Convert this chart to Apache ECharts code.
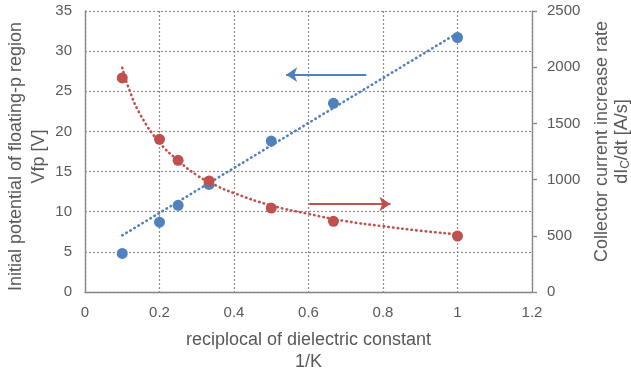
<!DOCTYPE html>
<html><head><meta charset="utf-8">
<script src="https://cdn.jsdelivr.net/npm/echarts@6/dist/echarts.min.js"></script>
<style>html,body{margin:0;padding:0;background:#fff}#c{width:631px;height:374px}</style>
</head><body><div id="c"></div>
<script>
// Data
const xK = [0.1, 0.2, 0.25, 0.333, 0.5, 0.667, 1.0];          // 1/K
const vfp = [4.8, 8.7, 10.8, 13.4, 18.8, 23.5, 31.7];          // left axis [V]
const dIcdt = [1905, 1358, 1172, 988, 747, 629, 498];          // right axis [A/s]
// trend lines
const vfpTrendX = [0.1, 1.0];
const vfpTrendY = [7.05, 32.25];
const dIcTrendX = [0.1, 0.12, 0.15, 0.2, 0.25, 0.3, 0.35, 0.4, 0.5, 0.6, 0.7, 0.8, 0.9, 1.0];
const dIcTrendY = [1995, 1790, 1570, 1330, 1170, 1040, 950, 880, 770, 695, 630, 585, 545, 513];
// annotation arrows (data space)
const arrowBlue = [[0.755, 27.07], [0.54, 27.07]];
const arrowRed = [[0.602, 783], [0.82, 783]];
const xTicks = {min: 0, max: 1.2, interval: 0.2};
const yLeftTicks = {min: 0, max: 35, interval: 5};
const yRightTicks = {min: 0, max: 2500, interval: 500};

const BLUE = '#4F81BD', RED = '#C0504D', TXT = '#595959', AX = '#868686', GRID = '#8c8c8c';
const FONT = 'Liberation Sans';
const zip = (a, b) => a.map((v, i) => [v, b[i]]);

const chart = echarts.init(document.getElementById('c'));
chart.setOption({
  animation: false,
  backgroundColor: '#fff',
  textStyle: {fontFamily: FONT},
  grid: {left: 85, right: 99, top: 11, bottom: 82, containLabel: false, outerBoundsMode: 'none'},
  xAxis: {
    type: 'value', min: xTicks.min, max: xTicks.max, interval: xTicks.interval,
    axisLine: {show: true, lineStyle: {color: AX, width: 1.3}},
    axisTick: {show: false},
    splitLine: {show: true, lineStyle: {color: GRID, type: [2, 2], width: 1.2}},
    axisLabel: {color: TXT, fontSize: 15, margin: 13, fontFamily: FONT, formatter: v => String(v)},
    name: 'reciplocal of dielectric constant\n1/K',
    nameLocation: 'middle', nameGap: 37, nameMoveOverlap: false,
    nameTextStyle: {color: TXT, fontSize: 18, lineHeight: 22, fontFamily: FONT}
  },
  yAxis: [{
    type: 'value', min: yLeftTicks.min, max: yLeftTicks.max, interval: yLeftTicks.interval,
    axisLine: {show: true, lineStyle: {color: AX, width: 1.3}},
    axisTick: {show: false},
    splitLine: {show: true, lineStyle: {color: GRID, type: [2, 2], width: 1.2}},
    axisLabel: {color: TXT, fontSize: 15, margin: 13, fontFamily: FONT, formatter: v => String(v)},
    name: 'Initial potential of floating-p region\nVfp [V]',
    nameLocation: 'middle', nameGap: 34, nameMoveOverlap: false,
    nameTextStyle: {color: TXT, fontSize: 18, lineHeight: 23, fontFamily: FONT, padding: [0, 10, 0, 0]}
  }, {
    type: 'value', position: 'right', min: yRightTicks.min, max: yRightTicks.max, interval: yRightTicks.interval,
    axisLine: {show: true, lineStyle: {color: AX, width: 1.3}},
    axisTick: {show: true, length: 5, lineStyle: {color: AX, width: 1.3}},
    splitLine: {show: false},
    axisLabel: {color: TXT, fontSize: 15, margin: 15, fontFamily: FONT, formatter: v => String(v)},
    name: '{t|Collector current increase rate}\n{t|dI}{s|C}{t|/dt [A/s]}',
    nameLocation: 'middle', nameGap: 60, nameMoveOverlap: false,
    nameTextStyle: {
      color: TXT, fontSize: 18, lineHeight: 20, fontFamily: FONT, padding: [0, 0, 0, 20],
      rich: {
        t: {color: TXT, fontSize: 18, lineHeight: 20, fontFamily: FONT},
        s: {color: TXT, fontSize: 12, lineHeight: 20, fontFamily: FONT, verticalAlign: 'bottom', padding: [7, 0, 0, 0]}
      }
    }
  }],
  series: [
    {type: 'line', yAxisIndex: 0, data: zip(vfpTrendX, vfpTrendY), showSymbol: false, symbol: 'none',
     lineStyle: {color: BLUE, width: 2.6, type: [0.5, 4.2], cap: 'round'}, z: 2,
     markLine: {silent: true, symbol: ['none', 'arrow'], symbolSize: 11,
       label: {show: false}, lineStyle: {color: BLUE, width: 2, type: 'solid'},
       data: [[{coord: arrowBlue[0]}, {coord: arrowBlue[1]}]]}},
    {type: 'line', yAxisIndex: 1, data: zip(dIcTrendX, dIcTrendY), smooth: true, showSymbol: false, symbol: 'none',
     lineStyle: {color: RED, width: 2.6, type: [0.5, 4.2], cap: 'round'}, z: 2,
     markLine: {silent: true, symbol: ['none', 'arrow'], symbolSize: 11,
       label: {show: false}, lineStyle: {color: RED, width: 2, type: 'solid'},
       data: [[{coord: arrowRed[0]}, {coord: arrowRed[1]}]]}},
    {type: 'scatter', yAxisIndex: 0, data: zip(xK, vfp), symbolSize: 11,
     itemStyle: {color: BLUE, opacity: 1}, z: 3},
    {type: 'scatter', yAxisIndex: 1, data: zip(xK, dIcdt), symbolSize: 11,
     itemStyle: {color: RED, opacity: 1}, z: 4}
  ]
});
</script></body></html>
